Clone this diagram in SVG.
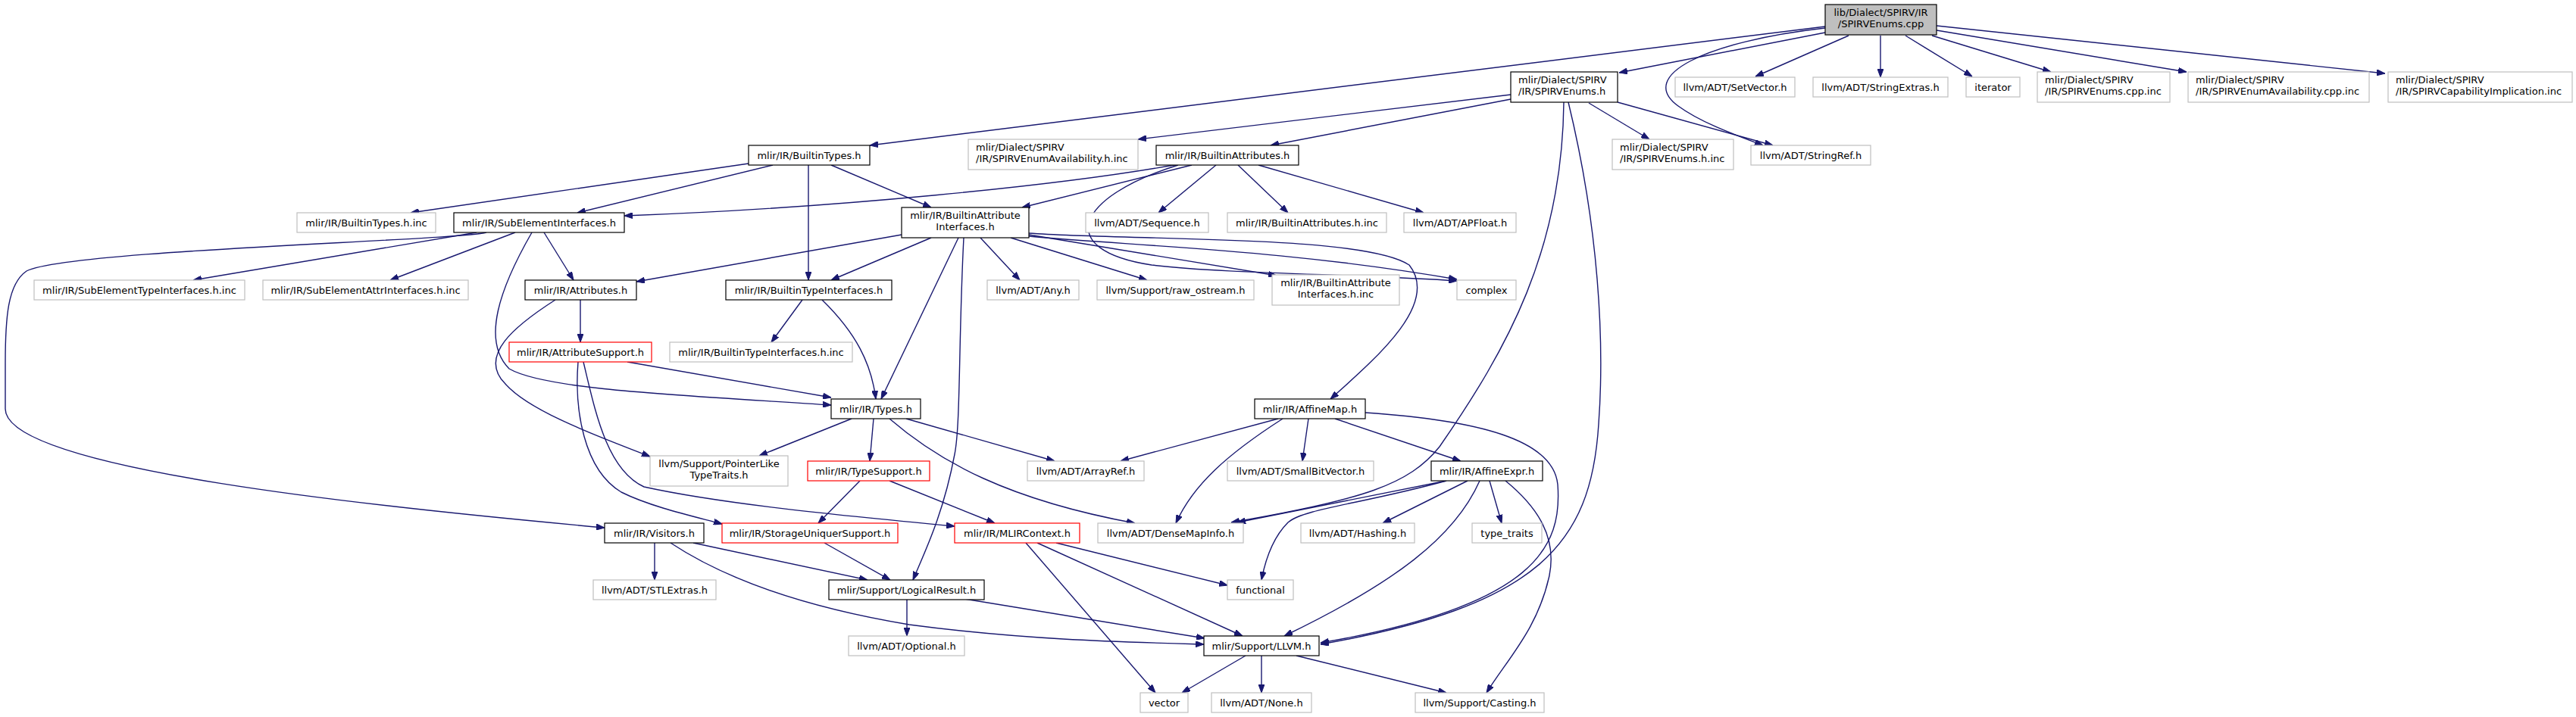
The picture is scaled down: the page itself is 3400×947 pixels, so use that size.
<svg xmlns="http://www.w3.org/2000/svg" width="3400" height="947" viewBox="0 0 3400 947">
<style>
rect{fill:#fff;stroke:#000;stroke-width:1.2}
.g rect{stroke:#bfbfbf}
.r rect{stroke:#f00}
.t rect{fill:#bfbfbf}
text{font-family:"DejaVu Sans",sans-serif;font-size:13px;fill:#000;text-anchor:middle}
text.l{text-anchor:start}
#edges path{fill:none;stroke:#191970;stroke-width:1.4;marker-end:url(#a)}
</style>
<defs>
<marker id="a" markerWidth="11" markerHeight="8" refX="11" refY="4" orient="auto" markerUnits="userSpaceOnUse"><path d="M0,0 L11,4 L0,8 z" fill="#191970" stroke="#191970" stroke-width="1"/></marker>
</defs>
<rect x="0" y="0" width="3400" height="947" style="fill:#fff;stroke:none"/>
<g id="edges">
<path d="M2409,35 L1148,192"/>
<path d="M2409,43 L2137,96"/>
<path d="M2440,47 L2317,101"/>
<path d="M2482,47 L2482,102"/>
<path d="M2515,47 L2603,101"/>
<path d="M2550,47 L2707,95"/>
<path d="M2556,40 L2886,95"/>
<path d="M2556,34 L3148,97"/>
<path d="M2409,37 C2250,55 2160,100 2215,140 C2245,162 2290,178 2327,192"/>
<path d="M2135,135 L2340,192"/>
<path d="M2097,136 L2177,184"/>
<path d="M1994,125 L1502,184"/>
<path d="M1994,131 L1677,192"/>
<path d="M2064,135 C2062,330 1990,460 1900,590 C1860,640 1800,660 1625,690"/>
<path d="M2070,135 C2110,300 2118,450 2110,560 C2100,720 2030,800 1743,851"/>
<path d="M1555,217 C1400,245 1100,275 824,285"/>
<path d="M1573,218 L1349,274"/>
<path d="M1605,218 L1529,281"/>
<path d="M1634,218 L1700,281"/>
<path d="M1661,218 L1879,281"/>
<path d="M1555,218 C1420,260 1390,330 1520,350 C1620,362 1800,362 1923,371"/>
<path d="M988,216 L542,281"/>
<path d="M1020,218 L762,281"/>
<path d="M1067,218 L1067,370"/>
<path d="M1097,218 L1229,274"/>
<path d="M642,307 C600,318 90,330 35,358 C10,375 7,420 7,480 L7,540 C7,620 500,670 798,697"/>
<path d="M629,307 L255,370"/>
<path d="M680,307 L515,370"/>
<path d="M718,307 L757,370"/>
<path d="M702,307 C660,380 635,450 672,487 C720,515 900,522 1097,535"/>
<path d="M766,396 L766,452"/>
<path d="M733,396 C680,430 630,470 667,507 C700,545 800,580 858,603"/>
<path d="M828,478 L1097,525"/>
<path d="M763,478 C758,540 770,620 820,650 C860,670 920,683 953,692"/>
<path d="M770,478 C785,540 800,620 850,643 C950,665 1100,680 1260,695"/>
<path d="M1190,310 L840,372"/>
<path d="M1229,314 L1097,370"/>
<path d="M1265,314 L1163,527"/>
<path d="M1272,314 C1265,450 1268,560 1260,600 C1245,680 1220,730 1205,766"/>
<path d="M1294,314 L1346,370"/>
<path d="M1334,314 L1514,370"/>
<path d="M1358,310 L1685,364"/>
<path d="M1358,312 C1500,325 1700,330 1923,369"/>
<path d="M1358,308 C1500,318 1800,310 1860,350 C1900,400 1820,470 1756,527"/>
<path d="M1059,396 L1018,452"/>
<path d="M1085,396 C1130,440 1150,480 1156,527"/>
<path d="M1124,553 L1002,602"/>
<path d="M1153,553 L1148,609"/>
<path d="M1196,553 L1392,609"/>
<path d="M1174,553 C1240,610 1330,660 1498,691"/>
<path d="M1135,635 L1080,691"/>
<path d="M1174,635 L1313,691"/>
<path d="M1687,553 L1479,609"/>
<path d="M1693,553 C1620,600 1575,640 1552,691"/>
<path d="M1727,553 L1719,609"/>
<path d="M1762,553 L1928,609"/>
<path d="M1802,545 C1950,555 2050,580 2056,640 C2062,720 2030,800 1743,849"/>
<path d="M1909,635 L1633,690"/>
<path d="M1909,635 C1800,665 1720,672 1700,690 C1680,710 1670,740 1665,766"/>
<path d="M1937,635 L1825,691"/>
<path d="M1966,635 L1982,691"/>
<path d="M1953,635 C1920,710 1840,770 1695,840"/>
<path d="M1987,635 C2030,670 2055,710 2045,760 C2030,830 1990,870 1962,915"/>
<path d="M1394,717 L1620,773"/>
<path d="M1369,717 L1640,840"/>
<path d="M1354,717 L1525,915"/>
<path d="M864,717 L864,766"/>
<path d="M915,717 L1145,766"/>
<path d="M885,717 C950,760 1050,800 1200,825 C1350,845 1480,848 1589,851"/>
<path d="M1088,717 L1175,766"/>
<path d="M1197,791 L1197,840"/>
<path d="M1273,791 L1590,843"/>
<path d="M1644,866 L1560,915"/>
<path d="M1665,866 L1665,915"/>
<path d="M1711,866 L1909,915"/>
</g>
<g id="n1" class="t"><rect x="2409" y="6" width="147" height="40"/><text x="2482.5" y="21">lib/Dialect/SPIRV/IR</text><text x="2482.5" y="36">/SPIRVEnums.cpp</text></g>
<g id="n2"><rect x="1994" y="95" width="141" height="40"/><text class="l" x="2004" y="110">mlir/Dialect/SPIRV</text><text class="l" x="2004" y="125">/IR/SPIRVEnums.h</text></g>
<g id="n3" class="g"><rect x="2211" y="102" width="158" height="26"/><text x="2290" y="119.5">llvm/ADT/SetVector.h</text></g>
<g id="n4" class="g"><rect x="2393" y="102" width="178" height="26"/><text x="2482" y="119.5">llvm/ADT/StringExtras.h</text></g>
<g id="n5" class="g"><rect x="2595" y="102" width="71" height="26"/><text x="2630.5" y="119.5">iterator</text></g>
<g id="n6" class="g"><rect x="2689" y="95" width="175" height="40"/><text class="l" x="2699" y="110">mlir/Dialect/SPIRV</text><text class="l" x="2699" y="125">/IR/SPIRVEnums.cpp.inc</text></g>
<g id="n7" class="g"><rect x="2888" y="95" width="239" height="40"/><text class="l" x="2898" y="110">mlir/Dialect/SPIRV</text><text class="l" x="2898" y="125">/IR/SPIRVEnumAvailability.cpp.inc</text></g>
<g id="n8" class="g"><rect x="3152" y="95" width="243" height="40"/><text class="l" x="3162" y="110">mlir/Dialect/SPIRV</text><text class="l" x="3162" y="125">/IR/SPIRVCapabilityImplication.inc</text></g>
<g id="n9"><rect x="988" y="192" width="160" height="26"/><text x="1068" y="209.5">mlir/IR/BuiltinTypes.h</text></g>
<g id="n10" class="g"><rect x="1278" y="184" width="224" height="40"/><text class="l" x="1288" y="199">mlir/Dialect/SPIRV</text><text class="l" x="1288" y="214">/IR/SPIRVEnumAvailability.h.inc</text></g>
<g id="n11"><rect x="1526" y="192" width="188" height="26"/><text x="1620" y="209.5">mlir/IR/BuiltinAttributes.h</text></g>
<g id="n12" class="g"><rect x="2128" y="184" width="160" height="40"/><text class="l" x="2138" y="199">mlir/Dialect/SPIRV</text><text class="l" x="2138" y="214">/IR/SPIRVEnums.h.inc</text></g>
<g id="n13" class="g"><rect x="2311" y="192" width="158" height="26"/><text x="2390" y="209.5">llvm/ADT/StringRef.h</text></g>
<g id="n14" class="g"><rect x="392" y="281" width="183" height="26"/><text x="483.5" y="298.5">mlir/IR/BuiltinTypes.h.inc</text></g>
<g id="n15"><rect x="599" y="281" width="225" height="26"/><text x="711.5" y="298.5">mlir/IR/SubElementInterfaces.h</text></g>
<g id="n16"><rect x="1190" y="274" width="168" height="40"/><text x="1274" y="289">mlir/IR/BuiltinAttribute</text><text x="1274" y="304">Interfaces.h</text></g>
<g id="n17" class="g"><rect x="1433" y="281" width="162" height="26"/><text x="1514" y="298.5">llvm/ADT/Sequence.h</text></g>
<g id="n18" class="g"><rect x="1620" y="281" width="210" height="26"/><text x="1725" y="298.5">mlir/IR/BuiltinAttributes.h.inc</text></g>
<g id="n19" class="g"><rect x="1853" y="281" width="148" height="26"/><text x="1927" y="298.5">llvm/ADT/APFloat.h</text></g>
<g id="n20" class="g"><rect x="45" y="370" width="278" height="26"/><text x="184" y="387.5">mlir/IR/SubElementTypeInterfaces.h.inc</text></g>
<g id="n21" class="g"><rect x="347" y="370" width="271" height="26"/><text x="482.5" y="387.5">mlir/IR/SubElementAttrInterfaces.h.inc</text></g>
<g id="n22"><rect x="693" y="370" width="147" height="26"/><text x="766.5" y="387.5">mlir/IR/Attributes.h</text></g>
<g id="n23"><rect x="958" y="370" width="219" height="26"/><text x="1067.5" y="387.5">mlir/IR/BuiltinTypeInterfaces.h</text></g>
<g id="n24" class="g"><rect x="1303" y="370" width="121" height="26"/><text x="1363.5" y="387.5">llvm/ADT/Any.h</text></g>
<g id="n25" class="g"><rect x="1448" y="370" width="207" height="26"/><text x="1551.5" y="387.5">llvm/Support/raw_ostream.h</text></g>
<g id="n26" class="g"><rect x="1679" y="363" width="168" height="40"/><text x="1763" y="378">mlir/IR/BuiltinAttribute</text><text x="1763" y="393">Interfaces.h.inc</text></g>
<g id="n27" class="g"><rect x="1923" y="370" width="78" height="26"/><text x="1962" y="387.5">complex</text></g>
<g id="n28" class="r"><rect x="672" y="452" width="188" height="26"/><text x="766" y="469.5">mlir/IR/AttributeSupport.h</text></g>
<g id="n29" class="g"><rect x="884" y="452" width="241" height="26"/><text x="1004.5" y="469.5">mlir/IR/BuiltinTypeInterfaces.h.inc</text></g>
<g id="n30"><rect x="1097" y="527" width="118" height="26"/><text x="1156" y="544.5">mlir/IR/Types.h</text></g>
<g id="n31"><rect x="1656" y="527" width="146" height="26"/><text x="1729" y="544.5">mlir/IR/AffineMap.h</text></g>
<g id="n32" class="g"><rect x="858" y="602" width="182" height="40"/><text x="949" y="617">llvm/Support/PointerLike</text><text x="949" y="632">TypeTraits.h</text></g>
<g id="n33" class="r"><rect x="1066" y="609" width="161" height="26"/><text x="1146.5" y="626.5">mlir/IR/TypeSupport.h</text></g>
<g id="n34" class="g"><rect x="1356" y="609" width="154" height="26"/><text x="1433" y="626.5">llvm/ADT/ArrayRef.h</text></g>
<g id="n35" class="g"><rect x="1620" y="609" width="193" height="26"/><text x="1716.5" y="626.5">llvm/ADT/SmallBitVector.h</text></g>
<g id="n36"><rect x="1889" y="609" width="147" height="26"/><text x="1962.5" y="626.5">mlir/IR/AffineExpr.h</text></g>
<g id="n37"><rect x="798" y="691" width="131" height="26"/><text x="863.5" y="708.5">mlir/IR/Visitors.h</text></g>
<g id="n38" class="r"><rect x="953" y="691" width="232" height="26"/><text x="1069" y="708.5">mlir/IR/StorageUniquerSupport.h</text></g>
<g id="n39" class="r"><rect x="1260" y="691" width="165" height="26"/><text x="1342.5" y="708.5">mlir/IR/MLIRContext.h</text></g>
<g id="n40" class="g"><rect x="1449" y="691" width="192" height="26"/><text x="1545" y="708.5">llvm/ADT/DenseMapInfo.h</text></g>
<g id="n41" class="g"><rect x="1717" y="691" width="150" height="26"/><text x="1792" y="708.5">llvm/ADT/Hashing.h</text></g>
<g id="n42" class="g"><rect x="1943" y="691" width="92" height="26"/><text x="1989" y="708.5">type_traits</text></g>
<g id="n43" class="g"><rect x="783" y="766" width="162" height="26"/><text x="864" y="783.5">llvm/ADT/STLExtras.h</text></g>
<g id="n44"><rect x="1094" y="766" width="205" height="26"/><text x="1196.5" y="783.5">mlir/Support/LogicalResult.h</text></g>
<g id="n45" class="g"><rect x="1620" y="766" width="87" height="26"/><text x="1663.5" y="783.5">functional</text></g>
<g id="n46" class="g"><rect x="1120" y="840" width="153" height="26"/><text x="1196.5" y="857.5">llvm/ADT/Optional.h</text></g>
<g id="n47"><rect x="1589" y="840" width="152" height="26"/><text x="1665" y="857.5">mlir/Support/LLVM.h</text></g>
<g id="n48" class="g"><rect x="1505" y="915" width="63" height="26"/><text x="1536.5" y="932.5">vector</text></g>
<g id="n49" class="g"><rect x="1599" y="915" width="132" height="26"/><text x="1665" y="932.5">llvm/ADT/None.h</text></g>
<g id="n50" class="g"><rect x="1868" y="915" width="170" height="26"/><text x="1953" y="932.5">llvm/Support/Casting.h</text></g>
</svg>
